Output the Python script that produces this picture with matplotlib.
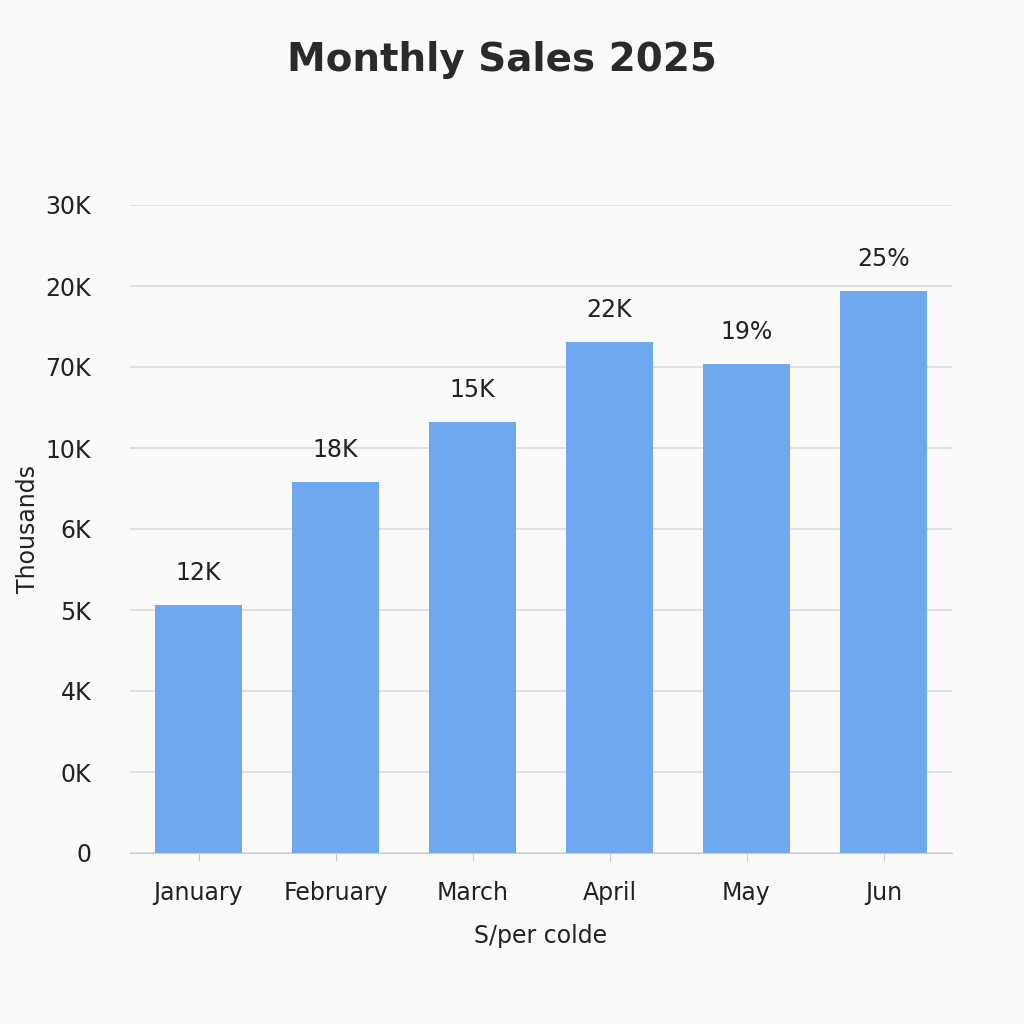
import matplotlib.pyplot as plt

months = ["January", "February", "March", "April", "May", "Jun"]
heights = [3.06, 4.58, 5.32, 6.31, 6.04, 6.94]
bar_labels = ["12K", "18K", "15K", "22K", "19%", "25%"]
tick_labels = ["0", "0K", "4K", "5K", "6K", "10K", "70K", "20K", "30K"]

bg = "#fafaf8"
fig = plt.figure(figsize=(10.24, 10.24), dpi=100, facecolor=bg)
ax = fig.add_axes([130 / 1024, 1 - 853 / 1024, 822 / 1024, 648 / 1024], facecolor=bg)

x = range(len(months))
ax.bar(x, heights, width=0.63, color="#6fa8ee", zorder=2)
for xi, h, lab in zip(x, heights, bar_labels):
    ax.text(xi, h + 0.25, lab, ha="center", va="bottom", fontsize=17, color="#222222")

ax.set_xlim(-0.5, 5.5)
ax.set_ylim(0, 8)
ax.set_yticks(range(9))
ax.set_yticklabels(tick_labels, fontsize=17, color="#222222")
ax.set_xticks(list(x))
ax.set_xticklabels(months, fontsize=17, color="#222222")
ax.grid(axis="y", color="#dddddd", linewidth=1.2, zorder=0)
for s in ["top", "right", "left"]:
    ax.spines[s].set_visible(False)
ax.spines["bottom"].set_color("#cccccc")
ax.tick_params(axis="y", length=0, pad=28)
ax.tick_params(axis="x", length=6, color="#cccccc", pad=14)

ax.set_ylabel("Thousands", fontsize=17, color="#222222", labelpad=4)
ax.set_xlabel("S/per colde", fontsize=17, color="#222222", labelpad=14)
fig.text(0.49, 1 - 60 / 1024, "Monthly Sales 2025", ha="center", va="center",
         fontsize=28, fontweight="bold", color="#2a2a2a")

fig.savefig("out.png", dpi=100, facecolor=bg)
